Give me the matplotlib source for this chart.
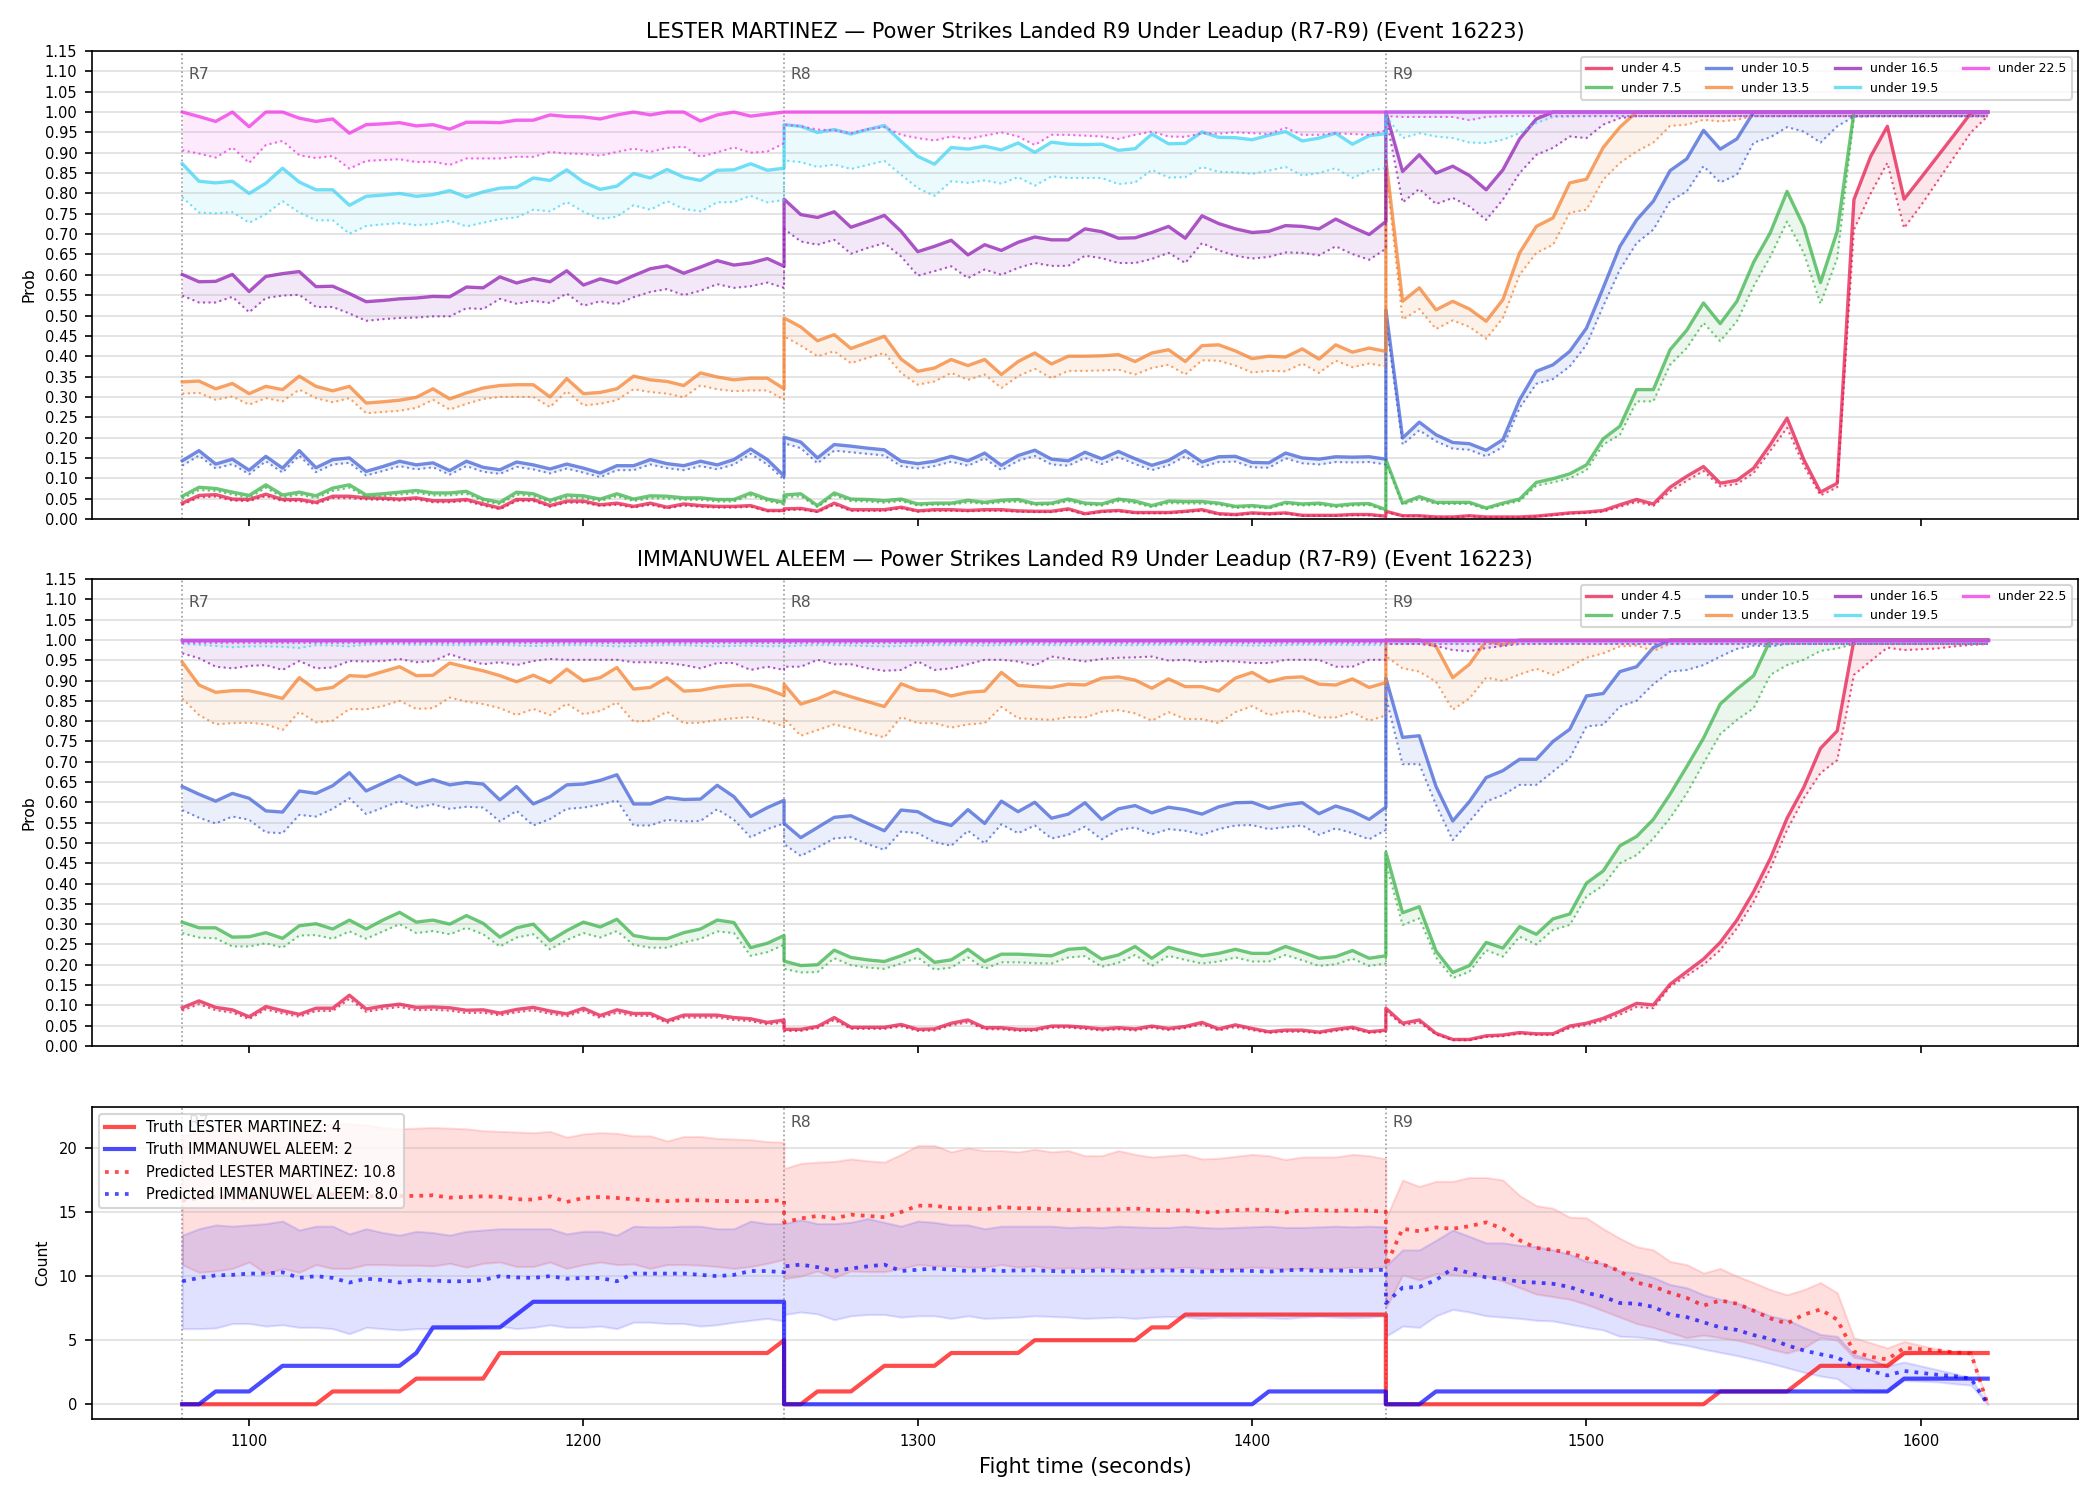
import numpy as np
import matplotlib
matplotlib.use("Agg")
import matplotlib.pyplot as plt
from matplotlib.ticker import FormatStrFormatter, MultipleLocator

# ---------------- time grid (5 s steps, one block per round) ----------------
T_R7 = np.arange(1080, 1261, 5)
T_R8 = np.arange(1260, 1441, 5)
T_R9 = np.arange(1440, 1621, 5)
TIME = np.concatenate([T_R7, T_R8, T_R9])
ROUNDS = ["R7", "R8", "R9"]
ROUND_STARTS = [1080, 1260, 1440]

THRESHOLDS = ["under 4.5", "under 7.5", "under 10.5", "under 13.5",
              "under 16.5", "under 19.5", "under 22.5"]
COLORS = ["#e6194b", "#3cb44b", "#4363d8", "#f58231", "#911eb4", "#42d4f4", "#f032e6"]

ONE = [1.0] * 37
P99 = [0.99] * 37

# ---------------- LESTER MARTINEZ: solid (current) and dotted (alt) ----------------
LM_U45 = [0.039, 0.058, 0.060, 0.049, 0.048, 0.061, 0.048, 0.048, 0.041, 0.056,
          0.056, 0.052, 0.051, 0.049, 0.052, 0.045, 0.045, 0.048, 0.037, 0.027,
          0.048, 0.048, 0.033, 0.044, 0.044, 0.035, 0.039, 0.031, 0.039, 0.029,
          0.037, 0.033, 0.031, 0.031, 0.033, 0.021, 0.021] + \
         [0.025, 0.026, 0.019, 0.039, 0.023, 0.023, 0.023, 0.029, 0.020, 0.023,
          0.023, 0.021, 0.023, 0.023, 0.020, 0.019, 0.019, 0.025, 0.013, 0.019,
          0.021, 0.016, 0.016, 0.016, 0.019, 0.023, 0.013, 0.011, 0.015, 0.013,
          0.015, 0.009, 0.009, 0.009, 0.011, 0.011, 0.007] + \
         [0.019, 0.008, 0.008, 0.005, 0.005, 0.008, 0.005, 0.005, 0.005, 0.007,
          0.011, 0.015, 0.017, 0.021, 0.035, 0.048, 0.037, 0.078, 0.105, 0.129,
          0.088, 0.095, 0.125, 0.183, 0.248, 0.146, 0.066, 0.088, 0.785, 0.891,
          0.965, 0.786, 0.838, 0.891, 0.944, 0.998, 1.000]
LM_U45_ALT = [0.035, 0.053, 0.055, 0.045, 0.044, 0.056, 0.044, 0.044, 0.037, 0.051,
              0.051, 0.048, 0.047, 0.045, 0.048, 0.041, 0.041, 0.044, 0.033, 0.024,
              0.044, 0.044, 0.030, 0.040, 0.040, 0.032, 0.035, 0.028, 0.035, 0.026,
              0.033, 0.030, 0.028, 0.028, 0.030, 0.019, 0.019] + \
             [0.022, 0.023, 0.017, 0.035, 0.020, 0.020, 0.020, 0.026, 0.018, 0.020,
              0.020, 0.019, 0.020, 0.020, 0.018, 0.017, 0.017, 0.022, 0.011, 0.017,
              0.019, 0.014, 0.014, 0.014, 0.017, 0.020, 0.011, 0.009, 0.013, 0.011,
              0.013, 0.008, 0.008, 0.008, 0.009, 0.009, 0.006] + \
             [0.017, 0.007, 0.007, 0.004, 0.004, 0.007, 0.004, 0.004, 0.004, 0.006,
              0.009, 0.013, 0.015, 0.018, 0.030, 0.042, 0.032, 0.068, 0.094, 0.118,
              0.080, 0.086, 0.113, 0.168, 0.224, 0.131, 0.058, 0.078, 0.711, 0.800,
              0.875, 0.715, 0.770, 0.830, 0.890, 0.950, 0.990]

LM_U75 = [0.056, 0.078, 0.075, 0.066, 0.058, 0.084, 0.059, 0.066, 0.057, 0.076,
          0.084, 0.059, 0.062, 0.066, 0.070, 0.064, 0.064, 0.068, 0.049, 0.041,
          0.066, 0.062, 0.046, 0.059, 0.057, 0.049, 0.062, 0.049, 0.057, 0.056,
          0.052, 0.052, 0.048, 0.048, 0.064, 0.049, 0.041] + \
         [0.059, 0.062, 0.033, 0.064, 0.049, 0.048, 0.045, 0.049, 0.037, 0.039,
          0.039, 0.046, 0.041, 0.046, 0.048, 0.038, 0.039, 0.049, 0.039, 0.037,
          0.049, 0.044, 0.033, 0.044, 0.043, 0.043, 0.039, 0.031, 0.033, 0.029,
          0.041, 0.037, 0.039, 0.033, 0.037, 0.038, 0.023] + \
         [0.146, 0.039, 0.055, 0.041, 0.041, 0.041, 0.027, 0.039, 0.049, 0.090,
          0.099, 0.111, 0.133, 0.197, 0.228, 0.318, 0.318, 0.416, 0.464, 0.531,
          0.480, 0.535, 0.631, 0.704, 0.805, 0.719, 0.581, 0.707, 1.000, 1.000,
          1.000, 1.000, 1.000, 1.000, 1.000, 1.000, 1.000]
LM_U75_ALT = [0.050, 0.071, 0.069, 0.060, 0.052, 0.077, 0.053, 0.060, 0.051, 0.069,
              0.077, 0.053, 0.056, 0.060, 0.064, 0.058, 0.058, 0.062, 0.044, 0.036,
              0.060, 0.056, 0.041, 0.053, 0.051, 0.044, 0.056, 0.044, 0.051, 0.050,
              0.047, 0.047, 0.043, 0.043, 0.058, 0.044, 0.036] + \
             [0.053, 0.056, 0.029, 0.058, 0.044, 0.043, 0.040, 0.044, 0.033, 0.035,
              0.035, 0.041, 0.037, 0.041, 0.043, 0.034, 0.035, 0.044, 0.035, 0.033,
              0.044, 0.039, 0.029, 0.039, 0.038, 0.038, 0.035, 0.027, 0.029, 0.026,
              0.037, 0.033, 0.035, 0.029, 0.033, 0.034, 0.020] + \
             [0.140, 0.035, 0.049, 0.037, 0.037, 0.037, 0.024, 0.035, 0.044, 0.082,
              0.090, 0.100, 0.120, 0.183, 0.207, 0.289, 0.289, 0.379, 0.420, 0.482,
              0.437, 0.486, 0.572, 0.645, 0.731, 0.654, 0.529, 0.641, 0.989, 0.990,
              0.990, 0.990, 0.990, 0.990, 0.990, 0.990, 0.990]

LM_U105 = [0.143, 0.168, 0.135, 0.147, 0.120, 0.154, 0.125, 0.168, 0.126, 0.146,
           0.150, 0.117, 0.129, 0.142, 0.133, 0.138, 0.119, 0.142, 0.127, 0.121,
           0.140, 0.133, 0.123, 0.135, 0.125, 0.113, 0.131, 0.131, 0.146, 0.136,
           0.131, 0.142, 0.133, 0.146, 0.172, 0.146, 0.106] + \
          [0.201, 0.189, 0.150, 0.183, 0.179, 0.174, 0.170, 0.142, 0.136, 0.142,
           0.154, 0.143, 0.162, 0.132, 0.156, 0.169, 0.147, 0.143, 0.164, 0.148,
           0.166, 0.148, 0.132, 0.144, 0.168, 0.140, 0.153, 0.154, 0.139, 0.138,
           0.162, 0.150, 0.147, 0.153, 0.152, 0.153, 0.147] + \
          [0.514, 0.199, 0.238, 0.207, 0.188, 0.185, 0.169, 0.195, 0.293, 0.363,
           0.379, 0.412, 0.469, 0.568, 0.670, 0.735, 0.781, 0.856, 0.885, 0.955,
           0.909, 0.934, 1.000, 1.000, 1.000, 1.000, 1.000, 1.000, 1.000, 1.000,
           1.000, 1.000, 1.000, 1.000, 1.000, 1.000, 1.000]
LM_U105_ALT = [0.131, 0.156, 0.124, 0.135, 0.110, 0.142, 0.114, 0.156, 0.115, 0.134,
               0.138, 0.107, 0.118, 0.130, 0.122, 0.127, 0.109, 0.130, 0.116, 0.111,
               0.128, 0.122, 0.112, 0.124, 0.114, 0.103, 0.120, 0.120, 0.134, 0.125,
               0.120, 0.130, 0.122, 0.134, 0.160, 0.134, 0.097] + \
              [0.186, 0.174, 0.137, 0.168, 0.164, 0.160, 0.156, 0.130, 0.124, 0.130,
               0.141, 0.131, 0.149, 0.120, 0.143, 0.155, 0.134, 0.131, 0.150, 0.135,
               0.152, 0.135, 0.120, 0.132, 0.154, 0.128, 0.140, 0.141, 0.127, 0.126,
               0.149, 0.137, 0.134, 0.140, 0.139, 0.140, 0.134] + \
              [0.490, 0.183, 0.218, 0.191, 0.173, 0.170, 0.154, 0.177, 0.273, 0.332,
               0.344, 0.375, 0.428, 0.523, 0.613, 0.678, 0.711, 0.781, 0.805, 0.867,
               0.827, 0.846, 0.925, 0.938, 0.963, 0.952, 0.925, 0.965, 0.989, 0.990,
               0.990, 0.990, 0.990, 0.990, 0.990, 0.990, 0.990]

LM_U135 = [0.337, 0.339, 0.320, 0.333, 0.308, 0.326, 0.318, 0.351, 0.326, 0.315,
           0.326, 0.285, 0.288, 0.292, 0.299, 0.320, 0.295, 0.310, 0.322, 0.328,
           0.330, 0.330, 0.300, 0.345, 0.308, 0.311, 0.320, 0.351, 0.342, 0.338,
           0.328, 0.359, 0.349, 0.342, 0.346, 0.346, 0.320] + \
          [0.494, 0.472, 0.438, 0.453, 0.419, 0.434, 0.449, 0.393, 0.363, 0.371,
           0.392, 0.377, 0.392, 0.355, 0.387, 0.408, 0.381, 0.400, 0.400, 0.401,
           0.404, 0.387, 0.408, 0.416, 0.387, 0.426, 0.428, 0.413, 0.394, 0.400,
           0.398, 0.418, 0.393, 0.428, 0.410, 0.420, 0.412] + \
          [0.883, 0.535, 0.568, 0.514, 0.535, 0.516, 0.486, 0.539, 0.654, 0.719,
           0.740, 0.826, 0.835, 0.913, 0.963, 1.000, 1.000, 1.000, 1.000, 1.000,
           1.000, 1.000, 1.000, 1.000, 1.000, 1.000, 1.000, 1.000, 1.000, 1.000,
           1.000, 1.000, 1.000, 1.000, 1.000, 1.000, 1.000]
LM_U135_ALT = [0.308, 0.310, 0.293, 0.301, 0.281, 0.297, 0.289, 0.318, 0.297, 0.287,
               0.297, 0.260, 0.263, 0.266, 0.273, 0.293, 0.269, 0.283, 0.295, 0.300,
               0.300, 0.300, 0.275, 0.314, 0.279, 0.283, 0.292, 0.319, 0.312, 0.308,
               0.299, 0.328, 0.319, 0.314, 0.316, 0.316, 0.293] + \
              [0.449, 0.426, 0.400, 0.412, 0.383, 0.396, 0.408, 0.359, 0.330, 0.338,
               0.359, 0.342, 0.355, 0.322, 0.351, 0.369, 0.346, 0.364, 0.364, 0.365,
               0.367, 0.355, 0.371, 0.379, 0.355, 0.390, 0.389, 0.377, 0.360, 0.364,
               0.363, 0.382, 0.359, 0.389, 0.373, 0.382, 0.375] + \
              [0.860, 0.490, 0.516, 0.467, 0.488, 0.472, 0.443, 0.494, 0.600, 0.654,
               0.674, 0.753, 0.760, 0.834, 0.875, 0.903, 0.925, 0.966, 0.969, 0.981,
               0.977, 0.981, 0.990, 0.990, 0.990, 0.990, 0.990, 0.990, 0.990, 0.990,
               0.990, 0.990, 0.990, 0.990, 0.990, 0.990, 0.990]

LM_U165 = [0.601, 0.583, 0.584, 0.601, 0.559, 0.596, 0.603, 0.608, 0.571, 0.572,
           0.554, 0.534, 0.537, 0.541, 0.543, 0.547, 0.546, 0.570, 0.568, 0.595,
           0.580, 0.591, 0.583, 0.610, 0.575, 0.590, 0.580, 0.598, 0.615, 0.622,
           0.604, 0.619, 0.635, 0.624, 0.629, 0.640, 0.621] + \
          [0.786, 0.748, 0.741, 0.755, 0.717, 0.731, 0.746, 0.707, 0.657, 0.670,
           0.685, 0.649, 0.674, 0.660, 0.680, 0.693, 0.686, 0.686, 0.713, 0.706,
           0.690, 0.691, 0.704, 0.719, 0.690, 0.745, 0.726, 0.713, 0.704, 0.707,
           0.721, 0.719, 0.713, 0.737, 0.717, 0.699, 0.731] + \
          [1.000, 0.854, 0.895, 0.850, 0.867, 0.844, 0.809, 0.858, 0.934, 0.983,
           1.000, 1.000, 1.000, 1.000, 1.000, 1.000, 1.000, 1.000, 1.000, 1.000,
           1.000, 1.000, 1.000, 1.000, 1.000, 1.000, 1.000, 1.000, 1.000, 1.000,
           1.000, 1.000, 1.000, 1.000, 1.000, 1.000, 1.000]
LM_U165_ALT = [0.549, 0.532, 0.532, 0.546, 0.508, 0.543, 0.549, 0.551, 0.521, 0.521,
               0.505, 0.487, 0.491, 0.494, 0.495, 0.498, 0.498, 0.518, 0.516, 0.541,
               0.529, 0.536, 0.531, 0.554, 0.524, 0.535, 0.528, 0.545, 0.558, 0.565,
               0.550, 0.561, 0.577, 0.568, 0.572, 0.581, 0.568] + \
              [0.713, 0.682, 0.674, 0.686, 0.652, 0.666, 0.678, 0.645, 0.598, 0.609,
               0.621, 0.592, 0.613, 0.600, 0.617, 0.629, 0.622, 0.622, 0.647, 0.641,
               0.629, 0.629, 0.639, 0.654, 0.629, 0.678, 0.660, 0.647, 0.640, 0.644,
               0.655, 0.654, 0.648, 0.670, 0.651, 0.637, 0.664] + \
              [0.990, 0.778, 0.811, 0.774, 0.789, 0.768, 0.735, 0.785, 0.850, 0.895,
               0.912, 0.940, 0.936, 0.969, 0.985, 0.990, 0.990, 0.990, 0.990, 0.990,
               0.990, 0.990, 0.990, 0.990, 0.990, 0.990, 0.990, 0.990, 0.990, 0.990,
               0.990, 0.990, 0.990, 0.990, 0.990, 0.990, 0.990]

LM_U195 = [0.873, 0.830, 0.826, 0.830, 0.800, 0.825, 0.862, 0.828, 0.809, 0.809,
           0.771, 0.793, 0.796, 0.800, 0.793, 0.797, 0.807, 0.791, 0.804, 0.813,
           0.815, 0.838, 0.832, 0.858, 0.828, 0.810, 0.818, 0.849, 0.838, 0.859,
           0.840, 0.832, 0.857, 0.858, 0.873, 0.857, 0.862] + \
          [0.969, 0.965, 0.950, 0.957, 0.946, 0.957, 0.967, 0.928, 0.891, 0.872,
           0.913, 0.909, 0.916, 0.907, 0.924, 0.901, 0.926, 0.921, 0.920, 0.921,
           0.906, 0.910, 0.946, 0.922, 0.923, 0.951, 0.938, 0.937, 0.932, 0.943,
           0.952, 0.929, 0.936, 0.948, 0.921, 0.942, 0.947] + ONE
LM_U195_ALT = [0.791, 0.753, 0.751, 0.754, 0.728, 0.749, 0.781, 0.753, 0.734, 0.734,
               0.701, 0.720, 0.724, 0.727, 0.722, 0.725, 0.733, 0.719, 0.728, 0.737,
               0.741, 0.760, 0.756, 0.779, 0.755, 0.737, 0.743, 0.771, 0.760, 0.781,
               0.762, 0.756, 0.778, 0.779, 0.794, 0.778, 0.784] + \
              [0.881, 0.877, 0.865, 0.871, 0.860, 0.870, 0.880, 0.846, 0.813, 0.794,
               0.830, 0.826, 0.832, 0.824, 0.840, 0.819, 0.842, 0.838, 0.838, 0.838,
               0.823, 0.827, 0.858, 0.839, 0.840, 0.865, 0.853, 0.852, 0.848, 0.856,
               0.865, 0.844, 0.850, 0.862, 0.838, 0.856, 0.862] + \
              [0.990, 0.936, 0.948, 0.940, 0.936, 0.925, 0.924, 0.932, 0.948, 0.973,
               0.988, 0.989, 0.990, 0.990, 0.990, 0.990, 0.990, 0.990, 0.990, 0.990,
               0.990, 0.990, 0.990, 0.990, 0.990, 0.990, 0.990, 0.990, 0.990, 0.990,
               0.990, 0.990, 0.990, 0.990, 0.990, 0.990, 0.990]

LM_U225 = [1.000, 0.989, 0.977, 1.000, 0.964, 1.000, 1.000, 0.985, 0.977, 0.983,
           0.948, 0.969, 0.971, 0.974, 0.966, 0.969, 0.958, 0.975, 0.975, 0.974,
           0.980, 0.980, 0.993, 0.989, 0.988, 0.983, 0.993, 1.000, 0.993, 1.000,
           1.000, 0.978, 0.993, 1.000, 0.990, 0.995, 1.000] + ONE + ONE
LM_U225_ALT = [0.906, 0.898, 0.888, 0.913, 0.875, 0.919, 0.929, 0.894, 0.887, 0.892,
               0.861, 0.880, 0.882, 0.884, 0.877, 0.878, 0.870, 0.886, 0.886, 0.886,
               0.890, 0.890, 0.902, 0.898, 0.897, 0.893, 0.902, 0.910, 0.902, 0.912,
               0.915, 0.890, 0.901, 0.913, 0.900, 0.903, 0.923] + \
              [0.969, 0.965, 0.957, 0.955, 0.948, 0.958, 0.963, 0.944, 0.936, 0.930,
               0.940, 0.934, 0.942, 0.950, 0.940, 0.919, 0.944, 0.944, 0.942, 0.940,
               0.934, 0.944, 0.952, 0.940, 0.939, 0.948, 0.947, 0.950, 0.948, 0.946,
               0.961, 0.944, 0.944, 0.948, 0.946, 0.944, 0.955] + \
              [0.990, 0.988, 0.988, 0.988, 0.988, 0.980, 0.988, 0.990, 0.990, 0.990,
               0.990, 0.990, 0.990, 0.990, 0.990, 0.990, 0.990, 0.990, 0.990, 0.990,
               0.990, 0.990, 0.990, 0.990, 0.990, 0.990, 0.990, 0.990, 0.990, 0.990,
               0.990, 0.990, 0.990, 0.990, 0.990, 0.990, 0.990]

# ---------------- IMMANUWEL ALEEM ----------------
IA_U45 = [0.094, 0.111, 0.095, 0.089, 0.072, 0.097, 0.087, 0.078, 0.093, 0.093,
          0.125, 0.091, 0.098, 0.103, 0.095, 0.096, 0.094, 0.088, 0.089, 0.081,
          0.090, 0.095, 0.086, 0.079, 0.093, 0.075, 0.089, 0.080, 0.080, 0.062,
          0.076, 0.076, 0.076, 0.070, 0.067, 0.058, 0.064] + \
         [0.041, 0.041, 0.048, 0.070, 0.046, 0.046, 0.046, 0.053, 0.041, 0.042,
          0.056, 0.064, 0.045, 0.045, 0.041, 0.041, 0.049, 0.049, 0.046, 0.042,
          0.045, 0.042, 0.049, 0.043, 0.048, 0.058, 0.042, 0.052, 0.043, 0.035,
          0.039, 0.039, 0.034, 0.041, 0.046, 0.035, 0.039] + \
         [0.093, 0.056, 0.064, 0.031, 0.016, 0.016, 0.025, 0.027, 0.033, 0.030,
          0.030, 0.049, 0.056, 0.068, 0.085, 0.105, 0.101, 0.152, 0.183, 0.214,
          0.255, 0.310, 0.380, 0.462, 0.561, 0.637, 0.733, 0.776, 1.000, 1.000,
          1.000, 1.000, 1.000, 1.000, 1.000, 1.000, 1.000]
IA_U45_ALT = [0.087, 0.103, 0.088, 0.082, 0.066, 0.090, 0.080, 0.072, 0.086, 0.086,
              0.116, 0.084, 0.091, 0.096, 0.088, 0.089, 0.087, 0.081, 0.082, 0.075,
              0.083, 0.088, 0.079, 0.073, 0.086, 0.069, 0.082, 0.074, 0.074, 0.057,
              0.070, 0.070, 0.070, 0.064, 0.061, 0.053, 0.058] + \
             [0.037, 0.037, 0.044, 0.064, 0.042, 0.042, 0.042, 0.048, 0.037, 0.038,
              0.051, 0.058, 0.041, 0.041, 0.037, 0.037, 0.045, 0.045, 0.042, 0.038,
              0.041, 0.038, 0.045, 0.039, 0.044, 0.053, 0.038, 0.047, 0.039, 0.032,
              0.035, 0.035, 0.031, 0.037, 0.042, 0.032, 0.035] + \
             [0.086, 0.051, 0.058, 0.028, 0.014, 0.014, 0.022, 0.024, 0.030, 0.027,
              0.027, 0.044, 0.051, 0.062, 0.077, 0.096, 0.093, 0.146, 0.173, 0.200,
              0.236, 0.290, 0.355, 0.437, 0.532, 0.610, 0.672, 0.704, 0.914, 0.948,
              0.981, 0.975, 0.977, 0.979, 0.984, 0.988, 0.990]

IA_U75 = [0.305, 0.291, 0.291, 0.268, 0.269, 0.279, 0.265, 0.296, 0.301, 0.288,
          0.310, 0.288, 0.310, 0.329, 0.305, 0.310, 0.300, 0.321, 0.302, 0.268,
          0.291, 0.300, 0.259, 0.284, 0.305, 0.293, 0.312, 0.272, 0.265, 0.264,
          0.279, 0.288, 0.310, 0.304, 0.242, 0.253, 0.272] + \
         [0.209, 0.198, 0.200, 0.236, 0.218, 0.212, 0.208, 0.222, 0.238, 0.206,
          0.212, 0.238, 0.208, 0.226, 0.226, 0.224, 0.222, 0.238, 0.241, 0.214,
          0.224, 0.245, 0.216, 0.243, 0.232, 0.222, 0.228, 0.238, 0.228, 0.228,
          0.245, 0.231, 0.216, 0.220, 0.235, 0.216, 0.222] + \
         [0.477, 0.328, 0.343, 0.234, 0.181, 0.198, 0.255, 0.241, 0.294, 0.275,
          0.313, 0.325, 0.401, 0.431, 0.493, 0.516, 0.558, 0.620, 0.688, 0.758,
          0.842, 0.879, 0.912, 1.000, 1.000, 1.000, 1.000, 1.000, 1.000, 1.000,
          1.000, 1.000, 1.000, 1.000, 1.000, 1.000, 1.000]
IA_U75_ALT = [0.278, 0.267, 0.265, 0.245, 0.245, 0.253, 0.242, 0.272, 0.273, 0.264,
              0.282, 0.264, 0.282, 0.300, 0.278, 0.283, 0.275, 0.291, 0.275, 0.245,
              0.267, 0.275, 0.238, 0.261, 0.278, 0.267, 0.283, 0.249, 0.242, 0.242,
              0.255, 0.264, 0.282, 0.278, 0.222, 0.231, 0.249] + \
             [0.190, 0.181, 0.182, 0.216, 0.199, 0.193, 0.190, 0.203, 0.218, 0.188,
              0.193, 0.218, 0.190, 0.206, 0.206, 0.204, 0.203, 0.218, 0.221, 0.195,
              0.205, 0.224, 0.197, 0.222, 0.212, 0.203, 0.208, 0.218, 0.208, 0.208,
              0.224, 0.211, 0.197, 0.201, 0.215, 0.197, 0.203] + \
             [0.450, 0.298, 0.314, 0.218, 0.167, 0.183, 0.236, 0.220, 0.269, 0.250,
              0.286, 0.298, 0.368, 0.395, 0.450, 0.470, 0.511, 0.561, 0.622, 0.696,
              0.768, 0.803, 0.832, 0.914, 0.938, 0.951, 0.973, 0.979, 0.990, 0.990,
              0.990, 0.990, 0.990, 0.990, 0.990, 0.990, 0.990]

IA_U105 = [0.639, 0.620, 0.603, 0.622, 0.610, 0.579, 0.576, 0.628, 0.622, 0.641,
           0.673, 0.628, 0.647, 0.666, 0.644, 0.656, 0.643, 0.649, 0.645, 0.606,
           0.639, 0.596, 0.614, 0.643, 0.645, 0.654, 0.668, 0.596, 0.596, 0.612,
           0.607, 0.608, 0.642, 0.614, 0.565, 0.587, 0.605] + \
          [0.548, 0.513, 0.538, 0.563, 0.567, 0.548, 0.530, 0.581, 0.577, 0.554,
           0.543, 0.582, 0.548, 0.603, 0.577, 0.600, 0.561, 0.571, 0.599, 0.558,
           0.584, 0.592, 0.574, 0.588, 0.582, 0.571, 0.589, 0.599, 0.600, 0.585,
           0.594, 0.599, 0.572, 0.591, 0.578, 0.558, 0.588] + \
          [0.906, 0.760, 0.764, 0.639, 0.554, 0.602, 0.661, 0.678, 0.706, 0.706,
           0.750, 0.780, 0.862, 0.868, 0.922, 0.934, 0.981, 1.000, 1.000, 1.000,
           1.000, 1.000, 1.000, 1.000, 1.000, 1.000, 1.000, 1.000, 1.000, 1.000,
           1.000, 1.000, 1.000, 1.000, 1.000, 1.000, 1.000]
IA_U105_ALT = [0.581, 0.562, 0.548, 0.565, 0.557, 0.526, 0.524, 0.569, 0.565, 0.584,
               0.610, 0.571, 0.587, 0.603, 0.587, 0.595, 0.584, 0.589, 0.587, 0.553,
               0.579, 0.543, 0.559, 0.584, 0.587, 0.594, 0.605, 0.543, 0.543, 0.557,
               0.553, 0.554, 0.583, 0.557, 0.514, 0.534, 0.548] + \
              [0.497, 0.468, 0.489, 0.511, 0.514, 0.497, 0.483, 0.528, 0.524, 0.502,
               0.493, 0.530, 0.499, 0.546, 0.524, 0.543, 0.511, 0.520, 0.540, 0.509,
               0.532, 0.538, 0.521, 0.534, 0.530, 0.520, 0.534, 0.543, 0.544, 0.534,
               0.539, 0.543, 0.520, 0.536, 0.524, 0.509, 0.532] + \
              [0.860, 0.694, 0.694, 0.594, 0.507, 0.553, 0.602, 0.618, 0.643, 0.643,
               0.676, 0.709, 0.787, 0.791, 0.836, 0.850, 0.891, 0.922, 0.926, 0.938,
               0.959, 0.978, 0.986, 0.984, 0.990, 0.990, 0.990, 0.990, 0.990, 0.990,
               0.990, 0.990, 0.990, 0.990, 0.990, 0.990, 0.990]

IA_U135 = [0.945, 0.889, 0.871, 0.875, 0.875, 0.866, 0.856, 0.907, 0.877, 0.883,
           0.912, 0.910, 0.922, 0.934, 0.912, 0.913, 0.943, 0.933, 0.924, 0.912,
           0.897, 0.913, 0.895, 0.928, 0.899, 0.907, 0.932, 0.879, 0.883, 0.907,
           0.874, 0.876, 0.884, 0.888, 0.889, 0.879, 0.863] + \
          [0.891, 0.842, 0.855, 0.873, 0.860, 0.848, 0.836, 0.892, 0.876, 0.875,
           0.862, 0.871, 0.874, 0.920, 0.888, 0.885, 0.883, 0.891, 0.889, 0.906,
           0.909, 0.901, 0.881, 0.904, 0.885, 0.885, 0.874, 0.906, 0.920, 0.897,
           0.907, 0.909, 0.891, 0.889, 0.904, 0.883, 0.895] + \
          [1.000, 1.000, 1.000, 0.984, 0.907, 0.940, 0.998, 0.988, 1.000, 1.000,
           1.000, 1.000, 1.000, 1.000, 1.000, 1.000, 1.000, 1.000, 1.000, 1.000,
           1.000, 1.000, 1.000, 1.000, 1.000, 1.000, 1.000, 1.000, 1.000, 1.000,
           1.000, 1.000, 1.000, 1.000, 1.000, 1.000, 1.000]
IA_U135_ALT = [0.856, 0.815, 0.792, 0.795, 0.796, 0.792, 0.778, 0.823, 0.797, 0.801,
               0.830, 0.829, 0.837, 0.850, 0.830, 0.832, 0.858, 0.848, 0.842, 0.832,
               0.815, 0.830, 0.815, 0.843, 0.817, 0.825, 0.846, 0.799, 0.801, 0.823,
               0.795, 0.796, 0.803, 0.807, 0.810, 0.800, 0.787] + \
              [0.807, 0.764, 0.778, 0.792, 0.782, 0.770, 0.760, 0.810, 0.795, 0.795,
               0.784, 0.792, 0.795, 0.835, 0.807, 0.805, 0.803, 0.810, 0.809, 0.823,
               0.827, 0.819, 0.801, 0.822, 0.805, 0.805, 0.795, 0.822, 0.837, 0.815,
               0.823, 0.825, 0.809, 0.809, 0.822, 0.801, 0.814] + \
              [0.960, 0.930, 0.922, 0.897, 0.828, 0.856, 0.907, 0.899, 0.915, 0.929,
               0.914, 0.934, 0.956, 0.967, 0.984, 0.986, 0.973, 0.990, 0.990, 0.990,
               0.990, 0.990, 0.990, 0.990, 0.990, 0.990, 0.990, 0.990, 0.990, 0.990,
               0.990, 0.990, 0.990, 0.990, 0.990, 0.990, 0.990]

IA_U165 = ONE + ONE + ONE
IA_U165_ALT = [0.967, 0.955, 0.934, 0.930, 0.936, 0.938, 0.926, 0.948, 0.930, 0.932,
               0.948, 0.947, 0.948, 0.953, 0.945, 0.948, 0.965, 0.951, 0.940, 0.945,
               0.938, 0.948, 0.953, 0.951, 0.951, 0.951, 0.951, 0.945, 0.945, 0.943,
               0.938, 0.930, 0.943, 0.943, 0.926, 0.934, 0.926] + \
              [0.934, 0.934, 0.951, 0.940, 0.940, 0.930, 0.924, 0.926, 0.947, 0.926,
               0.930, 0.940, 0.951, 0.951, 0.947, 0.937, 0.959, 0.953, 0.947, 0.953,
               0.956, 0.957, 0.959, 0.949, 0.951, 0.945, 0.948, 0.947, 0.943, 0.943,
               0.951, 0.951, 0.951, 0.934, 0.934, 0.951, 0.951] + \
              [0.990, 0.990, 0.990, 0.985, 0.975, 0.972, 0.980, 0.985, 0.990, 0.990,
               0.990, 0.990, 0.990, 0.990, 0.990, 0.990, 0.990, 0.990, 0.990, 0.990,
               0.990, 0.990, 0.990, 0.990, 0.990, 0.990, 0.990, 0.990, 0.990, 0.990,
               0.990, 0.990, 0.990, 0.990, 0.990, 0.990, 0.990]

IA_U195 = ONE + ONE + ONE
IA_U195_ALT = [0.990, 0.988, 0.985, 0.982, 0.984, 0.984, 0.983, 0.980, 0.987, 0.986,
               0.984, 0.988, 0.989, 0.989, 0.988, 0.988, 0.987, 0.987, 0.988, 0.988,
               0.986, 0.985, 0.986, 0.987, 0.987, 0.986, 0.984, 0.985, 0.986, 0.987,
               0.987, 0.985, 0.984, 0.985, 0.986, 0.984, 0.985] + \
              [0.984, 0.986, 0.987, 0.987, 0.986, 0.985, 0.984, 0.985, 0.986, 0.987,
               0.987, 0.987, 0.986, 0.987, 0.988, 0.988, 0.987, 0.987, 0.988, 0.988,
               0.987, 0.987, 0.988, 0.988, 0.988, 0.988, 0.987, 0.987, 0.986, 0.986,
               0.987, 0.988, 0.988, 0.988, 0.987, 0.988, 0.987] + P99

IA_U225 = ONE + ONE + ONE
IA_U225_ALT = [0.992] * 37 + [0.992] * 37 + P99

# ---------------- counts panel ----------------
TRUTH_LM = [0, 0, 0, 0, 0, 0, 0, 0, 0, 1,
            1, 1, 1, 1, 2, 2, 2, 2, 2, 4,
            4, 4, 4, 4, 4, 4, 4, 4, 4, 4,
            4, 4, 4, 4, 4, 4, 5] + \
           [0, 0, 1, 1, 1, 2, 3, 3, 3, 3,
            4, 4, 4, 4, 4, 5, 5, 5, 5, 5,
            5, 5, 6, 6, 7, 7, 7, 7, 7, 7,
            7, 7, 7, 7, 7, 7, 7] + \
           [0, 0, 0, 0, 0, 0, 0, 0, 0, 0,
            0, 0, 0, 0, 0, 0, 0, 0, 0, 0,
            1, 1, 1, 1, 1, 2, 3, 3, 3, 3,
            3, 4, 4, 4, 4, 4, 4]
TRUTH_IA = [0, 0, 1, 1, 1, 2, 3, 3, 3, 3,
            3, 3, 3, 3, 4, 6, 6, 6, 6, 6,
            7, 8, 8, 8, 8, 8, 8, 8, 8, 8,
            8, 8, 8, 8, 8, 8, 8] + \
           [0, 0, 0, 0, 0, 0, 0, 0, 0, 0,
            0, 0, 0, 0, 0, 0, 0, 0, 0, 0,
            0, 0, 0, 0, 0, 0, 0, 0, 0, 1,
            1, 1, 1, 1, 1, 1, 1] + \
           [0, 0, 0, 1, 1, 1, 1, 1, 1, 1,
            1, 1, 1, 1, 1, 1, 1, 1, 1, 1,
            1, 1, 1, 1, 1, 1, 1, 1, 1, 1,
            1, 2, 2, 2, 2, 2, 2]

PRED_LM = [15.9, 16.1, 16.2, 16.2, 16.0, 16.3, 16.2, 16.1, 16.3, 16.4,
           16.3, 16.2, 16.3, 16.26, 16.26, 16.31, 16.13, 16.18, 16.23, 16.18,
           16.0, 15.97, 16.23, 15.79, 16.1, 16.18, 16.1, 16.0, 15.92, 15.85,
           15.92, 15.92, 15.87, 15.85, 15.85, 15.87, 15.92] + \
          [14.2, 14.5, 14.7, 14.5, 14.8, 14.7, 14.6, 15.0, 15.5, 15.5,
           15.3, 15.3, 15.2, 15.4, 15.3, 15.3, 15.23, 15.15, 15.15, 15.2,
           15.2, 15.28, 15.15, 15.1, 15.15, 14.97, 15.02, 15.15, 15.2, 15.15,
           14.97, 15.15, 15.15, 15.1, 15.15, 15.1, 15.02] + \
          [10.8, 13.7, 13.5, 13.8, 13.7, 13.9, 14.2, 13.7, 12.8, 12.2,
           12.05, 11.8, 11.4, 10.9, 10.4, 9.5, 9.2, 8.7, 8.3, 7.7,
           8.1, 7.85, 7.3, 6.7, 6.3, 7.0, 7.4, 6.6, 4.1, 3.7,
           3.5, 4.4, 4.3, 4.2, 4.05, 3.97, 0.0]
BAND_LM_HI = [21.0, 21.2, 21.4, 21.5, 21.6, 21.5, 21.6, 21.7, 21.8, 21.85,
              21.9, 21.8, 21.6, 21.5, 21.55, 21.6, 21.55, 21.5, 21.35, 21.3,
              21.25, 21.2, 21.3, 20.85, 21.1, 21.2, 21.15, 20.95, 20.95, 20.55,
              20.9, 20.9, 20.75, 20.7, 20.65, 20.5, 20.45] + \
             [18.4, 18.8, 18.9, 18.95, 19.15, 19.0, 18.9, 19.5, 20.2, 20.2,
              19.7, 20.0, 19.8, 19.8, 19.7, 19.9, 19.7, 19.8, 19.4, 19.4,
              19.8, 19.5, 19.3, 19.4, 19.5, 19.15, 19.2, 19.35, 19.5, 19.4,
              19.1, 19.3, 19.3, 19.3, 19.5, 19.4, 19.15] + \
             [14.5, 17.5, 17.0, 17.4, 17.4, 17.7, 17.7, 17.5, 16.3, 15.5,
              15.3, 14.6, 14.55, 13.7, 12.95, 12.3, 12.05, 11.15, 10.9, 10.25,
              10.6, 10.0, 9.5, 8.95, 8.55, 8.95, 9.5, 8.7, 5.2, 4.8,
              4.4, 4.9, 4.6, 4.3, 4.1, 3.97, 0.05]
BAND_LM_LO = [10.9, 10.3, 10.4, 10.6, 11.1, 10.2, 10.6, 10.3, 10.9, 10.6,
              10.6, 10.9, 10.9, 10.85, 10.85, 10.8, 11.0, 10.7, 11.0, 11.1,
              10.75, 10.75, 11.1, 10.6, 10.9, 11.1, 10.9, 10.95, 10.6, 10.9,
              10.9, 10.85, 10.75, 10.6, 10.75, 11.0, 11.3] + \
             [9.8, 10.0, 10.4, 9.9, 10.4, 10.35, 10.35, 10.6, 10.9, 10.8,
              10.8, 10.7, 10.7, 10.9, 10.7, 10.8, 10.6, 10.65, 10.6, 10.7,
              10.6, 10.55, 10.65, 10.6, 10.7, 10.6, 10.55, 10.6, 10.7, 10.65,
              10.55, 10.6, 10.65, 10.6, 10.7, 10.6, 10.75] + \
             [7.5, 10.1, 9.7, 10.2, 10.1, 10.0, 10.0, 9.6, 9.1, 8.6,
              8.4, 8.2, 7.8, 7.3, 6.8, 6.3, 6.0, 5.6, 5.2, 5.4,
              5.2, 5.0, 4.7, 4.3, 4.0, 4.4, 5.2, 5.0, 3.65, 3.45,
              2.9, 3.9, 4.0, 4.0, 4.0, 3.97, 0.0]

PRED_IA = [9.6, 9.86, 10.06, 10.1, 10.2, 10.2, 10.3, 9.86, 10.0, 9.86,
           9.5, 9.8, 9.7, 9.5, 9.7, 9.65, 9.6, 9.6, 9.7, 10.0,
           9.9, 9.86, 10.0, 9.8, 9.86, 9.86, 9.6, 10.2, 10.2, 10.2,
           10.2, 10.1, 10.0, 10.1, 10.4, 10.4, 10.3] + \
          [10.76, 10.9, 10.7, 10.4, 10.6, 10.76, 10.9, 10.4, 10.5, 10.6,
           10.5, 10.4, 10.5, 10.4, 10.45, 10.45, 10.4, 10.35, 10.4, 10.45,
           10.4, 10.35, 10.4, 10.45, 10.4, 10.35, 10.4, 10.45, 10.4, 10.35,
           10.45, 10.5, 10.4, 10.45, 10.4, 10.45, 10.5] + \
          [7.9, 9.1, 9.15, 9.7, 10.6, 10.25, 9.9, 9.8, 9.55, 9.5,
           9.4, 9.15, 8.7, 8.4, 7.9, 7.85, 7.6, 7.0, 6.8, 6.4,
           6.0, 5.8, 5.4, 5.1, 4.6, 4.2, 3.9, 3.65, 2.95, 2.6,
           2.25, 2.6, 2.45, 2.3, 2.2, 2.0, 0.0]
BAND_IA_HI = [13.2, 13.7, 14.0, 13.9, 14.0, 14.1, 14.3, 13.6, 13.9, 13.9,
              13.3, 13.7, 13.4, 13.2, 13.5, 13.4, 13.2, 13.5, 13.6, 13.7,
              13.7, 13.7, 13.7, 13.3, 13.5, 13.5, 13.2, 13.9, 13.85, 13.85,
              13.9, 13.9, 13.7, 13.7, 14.3, 14.1, 14.1] + \
             [14.1, 14.4, 14.1, 14.1, 14.2, 14.5, 14.2, 13.9, 14.3, 14.2,
              14.0, 14.0, 13.7, 13.9, 13.9, 13.9, 13.9, 13.8, 13.85, 13.8,
              13.9, 13.85, 13.8, 13.8, 13.9, 13.8, 13.75, 13.8, 13.85, 13.9,
              13.8, 13.8, 13.85, 13.9, 13.85, 13.9, 13.85] + \
             [10.8, 12.05, 12.05, 12.8, 13.6, 13.1, 12.6, 12.6, 12.4, 12.3,
              12.05, 11.7, 11.15, 11.0, 10.4, 10.25, 9.9, 9.35, 9.1, 8.55,
              8.2, 7.9, 7.4, 6.9, 6.6, 6.0, 5.45, 5.3, 3.9, 3.5,
              3.0, 3.3, 3.0, 2.7, 2.4, 2.05, 0.0]
BAND_IA_LO = [5.9, 5.9, 5.95, 6.3, 6.3, 6.1, 6.2, 6.0, 6.0, 5.9,
              5.5, 6.0, 5.9, 5.8, 5.9, 5.9, 5.9, 5.9, 6.0, 6.1,
              5.9, 6.0, 6.2, 6.0, 6.0, 6.1, 5.9, 6.4, 6.4, 6.3,
              6.3, 6.1, 6.2, 6.4, 6.55, 6.7, 6.5] + \
             [7.0, 7.2, 7.05, 6.6, 6.9, 7.0, 7.0, 6.8, 6.9, 6.9,
              6.7, 6.9, 6.7, 6.75, 6.8, 6.9, 6.85, 6.8, 6.7, 6.75,
              6.8, 6.7, 6.8, 6.85, 6.8, 6.7, 6.8, 6.75, 6.8, 6.75,
              6.7, 6.8, 6.85, 6.8, 6.75, 6.8, 6.9] + \
             [5.3, 6.1, 6.0, 6.9, 7.4, 7.2, 6.9, 6.8, 6.7, 6.55,
              6.5, 6.25, 6.0, 5.8, 5.3, 5.25, 5.1, 4.8, 4.6, 4.3,
              4.05, 3.8, 3.5, 3.2, 2.85, 2.5, 2.2, 2.0, 1.1, 1.0,
              1.0, 1.85, 1.8, 1.75, 1.6, 1.5, 0.0]

LM_SOLID = [LM_U45, LM_U75, LM_U105, LM_U135, LM_U165, LM_U195, LM_U225]
LM_ALT = [LM_U45_ALT, LM_U75_ALT, LM_U105_ALT, LM_U135_ALT, LM_U165_ALT, LM_U195_ALT, LM_U225_ALT]
IA_SOLID = [IA_U45, IA_U75, IA_U105, IA_U135, IA_U165, IA_U195, IA_U225]
IA_ALT = [IA_U45_ALT, IA_U75_ALT, IA_U105_ALT, IA_U135_ALT, IA_U165_ALT, IA_U195_ALT, IA_U225_ALT]

TITLE_LM = "LESTER MARTINEZ \u2014 Power Strikes Landed R9 Under Leadup (R7-R9) (Event 16223)"
TITLE_IA = "IMMANUWEL ALEEM \u2014 Power Strikes Landed R9 Under Leadup (R7-R9) (Event 16223)"

# ---------------- drawing ----------------
fig = plt.figure(figsize=(14, 10), dpi=150)
L, W = 0.0438, 0.9457
ax1 = fig.add_axes([L, 0.654, W, 0.312])
ax2 = fig.add_axes([L, 0.3027, W, 0.3113], sharex=ax1)
ax3 = fig.add_axes([L, 0.054, W, 0.208], sharex=ax1)


def round_marks(ax):
    for name, t in zip(ROUNDS, ROUND_STARTS):
        ax.axvline(t, color="gray", ls=":", lw=0.8, alpha=0.8, zorder=1)
        ax.text(t + 2, 0.95, name, transform=ax.get_xaxis_transform(),
                fontsize=7.5, color="#555555", va="center", ha="left")


def prob_panel(ax, title, solids, alts):
    for lab, col, s, d in zip(THRESHOLDS, COLORS, solids, alts):
        s = np.asarray(s, float)
        d = np.asarray(d, float)
        ax.fill_between(TIME, s, d, color=col, alpha=0.1, linewidth=0)
        ax.plot(TIME, d, color=col, ls=":", lw=1.0, alpha=0.75)
        ax.plot(TIME, s, color=col, lw=1.6, alpha=0.75, label=lab)
    round_marks(ax)
    ax.set_ylim(0, 1.15)
    ax.yaxis.set_major_locator(MultipleLocator(0.05))
    ax.yaxis.set_major_formatter(FormatStrFormatter("%.2f"))
    ax.set_ylabel("Prob", fontsize=7.5)
    ax.set_title(title, fontsize=10)
    ax.grid(axis="y", alpha=0.4, lw=0.8)
    ax.tick_params(labelsize=7, labelbottom=False)
    ax.legend(loc="upper right", ncol=4, fontsize=6)


prob_panel(ax1, TITLE_LM, LM_SOLID, LM_ALT)
prob_panel(ax2, TITLE_IA, IA_SOLID, IA_ALT)

ax3.fill_between(TIME, BAND_LM_LO, BAND_LM_HI, color="red", alpha=0.13)
ax3.fill_between(TIME, BAND_IA_LO, BAND_IA_HI, color="blue", alpha=0.12)
ax3.plot(TIME, TRUTH_LM, color="red", lw=2, alpha=0.7, label="Truth LESTER MARTINEZ: 4")
ax3.plot(TIME, TRUTH_IA, color="blue", lw=2, alpha=0.7, label="Truth IMMANUWEL ALEEM: 2")
ax3.plot(TIME, PRED_LM, color="red", ls=":", lw=1.8, alpha=0.7, label="Predicted LESTER MARTINEZ: 10.8")
ax3.plot(TIME, PRED_IA, color="blue", ls=":", lw=1.8, alpha=0.7, label="Predicted IMMANUWEL ALEEM: 8.0")
round_marks(ax3)
ax3.set_ylim(-1.15, 23.2)
ax3.set_ylabel("Count", fontsize=7.5)
ax3.set_xlabel("Fight time (seconds)", fontsize=10)
ax3.grid(axis="y", alpha=0.4, lw=0.8)
ax3.tick_params(labelsize=7)
leg = ax3.legend(loc="upper left", fontsize=7)
leg.set_zorder(5)
ax3.set_xlim(1053, 1647)
ax3.xaxis.set_major_locator(MultipleLocator(100))

fig.savefig("out.png", dpi=150)
